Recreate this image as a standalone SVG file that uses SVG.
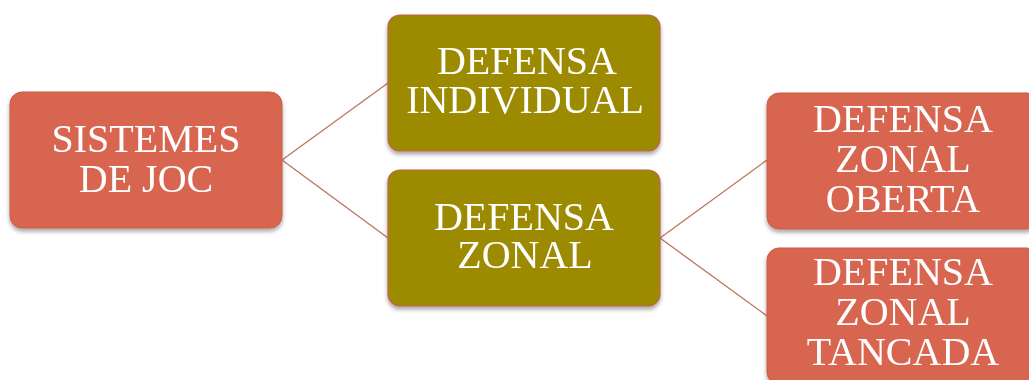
<svg xmlns="http://www.w3.org/2000/svg" width="1029" height="380" viewBox="0 0 1029 380">
<defs>
<filter id="sh" x="-10%" y="-10%" width="120%" height="130%">
<feGaussianBlur in="SourceAlpha" stdDeviation="2"/>
<feOffset dx="0" dy="3" result="b"/>
<feComponentTransfer><feFuncA type="linear" slope="0.35"/></feComponentTransfer>
<feMerge><feMergeNode/><feMergeNode in="SourceGraphic"/></feMerge>
</filter>
</defs>
<style>
.red{fill:#D8654F;stroke:#C95D48;stroke-width:1}
.olive{fill:#9C8A00;stroke:#C0634C;stroke-width:1.2}
.t{font-family:"Liberation Serif","DejaVu Serif",serif;font-size:40px;fill:#FFFFFF;text-anchor:middle}
.c{stroke:#C0735E;stroke-width:1.3;fill:none}
</style>
<rect width="1029" height="380" fill="#FFFFFF"/>
<g id="connectors">
<line class="c" x1="282" y1="160" x2="388" y2="83"/>
<line class="c" x1="282" y1="160" x2="388" y2="238"/>
<line class="c" x1="660" y1="238" x2="767" y2="160"/>
<line class="c" x1="660" y1="238" x2="767" y2="316"/>
</g>
<g id="root" filter="url(#sh)">
<rect class="red" x="10" y="92" width="272" height="136" rx="12"/>
<text class="t" x="146" y="152">SISTEMES</text>
<text class="t" x="146" y="192">DE JOC</text>
</g>
<g id="individual" filter="url(#sh)">
<rect class="olive" x="388" y="15" width="272" height="136" rx="12"/>
<text class="t" x="527" y="74">DEFENSA</text>
<text class="t" x="525" y="113">INDIVIDUAL</text>
</g>
<g id="zonal" filter="url(#sh)">
<rect class="olive" x="388" y="170" width="272" height="136" rx="12"/>
<text class="t" x="524" y="230">DEFENSA</text>
<text class="t" x="525" y="268">ZONAL</text>
</g>
<g id="oberta" filter="url(#sh)">
<rect class="red" x="767" y="93" width="272" height="136" rx="12"/>
<text class="t" x="903" y="132">DEFENSA</text>
<text class="t" x="903" y="172">ZONAL</text>
<text class="t" x="903" y="212">OBERTA</text>
</g>
<g id="tancada" filter="url(#sh)">
<rect class="red" x="767" y="248" width="272" height="136" rx="12"/>
<text class="t" x="903" y="285">DEFENSA</text>
<text class="t" x="903" y="325">ZONAL</text>
<text class="t" x="903" y="365">TANCADA</text>
</g>
</svg>
